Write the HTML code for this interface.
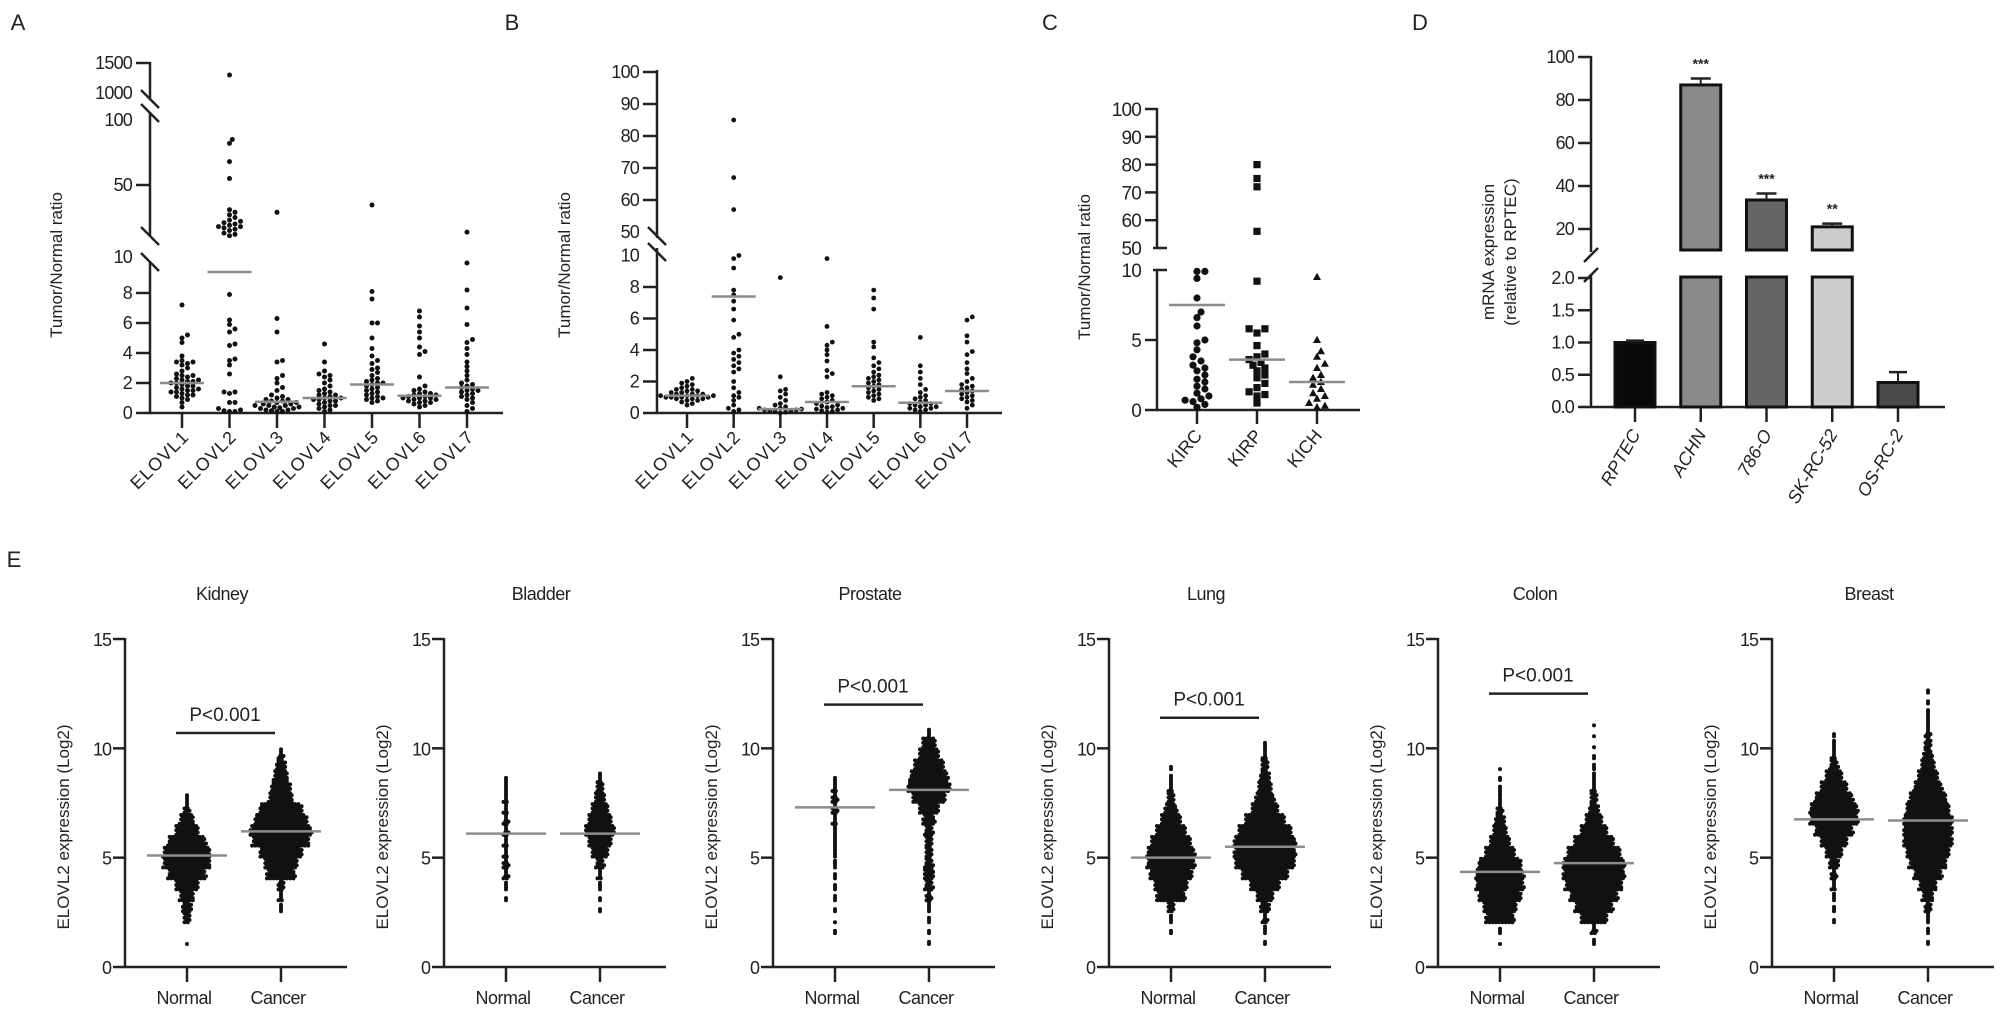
<!DOCTYPE html>
<html><head><meta charset="utf-8">
<style>
html,body{margin:0;padding:0;background:#fff;overflow:hidden;}
svg{display:block;font-family:"Liberation Sans",Arial,sans-serif;}
</style></head>
<body>
<svg id="fig" width="2008" height="1014" viewBox="0 0 2008 1014" xmlns="http://www.w3.org/2000/svg">
<rect width="2008" height="1014" fill="#fff"/>
<g id="root"></g>
</svg>
<script>
// ---------- Panel A data ----------
const aCats = ["ELOVL1","ELOVL2","ELOVL3","ELOVL4","ELOVL5","ELOVL6","ELOVL7"];
const aVals = [
 [0.4,0.7,0.9,1.0,1.1,1.2,1.2,1.3,1.4,1.4,1.5,1.5,1.6,1.6,1.7,1.8,1.8,1.9,2.0,2.0,2.1,2.1,2.2,2.2,2.3,2.4,2.5,2.5,2.6,2.8,3.0,3.2,3.3,3.4,3.4,3.5,3.8,4.7,5.0,5.2,7.2],
 [0.1,0.1,0.15,0.2,0.3,0.7,0.7,1.3,1.4,1.4,2.6,3.2,3.5,3.6,4.5,4.6,5.4,5.6,5.9,6.2,7.9,11,12,13,15,16,17,18,18,19,20,21,22,23,25,27,29,31,55,68,82,85,1300],
 [0.1,0.1,0.15,0.2,0.2,0.3,0.3,0.35,0.4,0.4,0.5,0.5,0.5,0.6,0.6,0.7,0.7,0.8,0.8,0.9,0.9,1.0,1.1,1.2,1.5,1.7,2.0,2.3,2.5,3.4,3.5,5.4,6.3,29],
 [0.1,0.2,0.3,0.4,0.5,0.5,0.6,0.7,0.8,0.8,0.9,0.9,1.0,1.0,1.1,1.2,1.2,1.3,1.4,1.5,1.6,1.8,2.0,2.2,2.4,2.5,2.6,2.8,3.4,4.6],
 [0.7,0.8,0.9,1.0,1.0,1.1,1.2,1.3,1.4,1.5,1.6,1.7,1.8,1.9,2.0,2.0,2.1,2.2,2.3,2.5,2.7,2.9,3.0,3.3,3.5,3.8,4.3,5.0,6.0,6.0,7.6,8.1,34.6],
 [0.4,0.5,0.6,0.7,0.7,0.8,0.8,0.9,0.9,1.0,1.0,1.0,1.1,1.1,1.2,1.2,1.3,1.3,1.4,1.5,1.6,1.8,2.4,3.9,4.1,4.4,5.0,5.4,5.8,6.4,6.8],
 [0.1,0.3,0.5,0.7,0.9,1.0,1.1,1.2,1.3,1.4,1.5,1.5,1.6,1.7,1.8,1.9,2.0,2.2,2.5,2.8,3.1,3.4,3.9,4.3,4.7,4.9,5.9,7.0,8.2,10,13.8]
];
const aMeans = [2.0,9.4,0.75,1.0,1.9,1.15,1.7];
const aTicks = [0,2,4,6,8,10,50,100,1000,1500];
// ---------- Panel B data ----------
const bCats = ["ELOVL1","ELOVL2","ELOVL3","ELOVL4","ELOVL5","ELOVL6","ELOVL7"];
const bVals = [
 [0.5,0.6,0.7,0.8,0.8,0.9,0.9,0.9,1.0,1.0,1.0,1.0,1.1,1.1,1.1,1.1,1.2,1.2,1.2,1.3,1.3,1.4,1.4,1.5,1.5,1.6,1.7,1.8,1.9,2.0,2.2],
 [0.1,0.2,0.3,0.5,0.8,1.0,1.1,1.3,1.6,2.0,2.6,2.8,3.0,3.2,3.4,3.6,3.8,4.0,4.8,5.0,5.9,6.6,7.1,7.5,7.8,9.2,9.8,10,57,67,85],
 [0.0,0.05,0.1,0.1,0.15,0.2,0.2,0.25,0.3,0.3,0.4,0.5,0.6,0.8,1.0,1.2,1.4,1.5,2.3,8.6],
 [0.05,0.1,0.15,0.2,0.25,0.3,0.35,0.4,0.45,0.5,0.6,0.7,0.8,0.9,1.0,1.1,1.2,1.3,2.3,2.5,2.7,3.3,3.7,4.0,4.3,4.5,5.5,9.8],
 [0.8,0.9,1.0,1.1,1.2,1.3,1.4,1.5,1.6,1.7,1.8,1.9,2.0,2.1,2.2,2.3,2.4,2.6,2.8,3.0,3.2,3.5,4.2,4.5,6.6,7.3,7.8],
 [0.1,0.2,0.2,0.3,0.3,0.4,0.4,0.5,0.5,0.6,0.6,0.7,0.8,0.9,1.0,1.1,1.3,1.5,1.8,2.2,2.6,3.0,4.8],
 [0.3,0.5,0.7,0.8,0.9,1.0,1.1,1.2,1.3,1.4,1.5,1.6,1.7,1.8,2.0,2.2,2.5,2.8,3.2,3.7,3.9,4.5,4.9,5.9,6.1]
];
const bMeans = [1.1,7.4,0.25,0.7,1.7,0.65,1.4];
const bTicks = [0,2,4,6,8,10,50,60,70,80,90,100];
// ---------- Panel C data ----------
const cCats = ["KIRC","KIRP","KICH"];
const cVals = [
 [0.2,0.4,0.6,0.7,0.8,1.0,1.2,1.5,1.7,2.0,2.2,2.5,2.8,3.0,3.2,3.5,3.8,4.3,4.8,5.0,6.0,6.6,7.0,8.0,9.4,9.9,9.9],
 [0.5,1.0,1.1,1.3,1.6,1.9,2.3,2.5,2.8,3.0,3.2,3.4,3.6,3.8,4.0,4.6,5.5,5.8,5.8,9.2,56,72,75,80],
 [0.2,0.3,0.5,0.8,1.0,1.2,1.5,1.8,2.0,2.3,2.5,3.0,3.3,3.8,4.2,5.0,9.5]
];
const cMeans = [7.5,3.6,2.0];
const cTicks = [0,5,10,50,60,70,80,90,100];
// ---------- Panel D data ----------
const dCats = ["RPTEC","ACHN","786-O","SK-RC-52","OS-RC-2"];
const dVals = [1.0,87,33.5,21,0.38];
const dErrs = [0.03,3,3,1.5,0.16];
const dStars = ["","***","***","**",""];
const dTicksLow = [0.0,0.5,1.0,1.5,2.0];
const dTicksHigh = [20,40,60,80,100];
// ---------- Panel E data (counts per 0.5 log2 bin, bin i = [0.5i, 0.5i+0.5)) ----------
const eTissues = ["Kidney","Bladder","Prostate","Lung","Colon","Breast"];
const eGroups = ["Normal","Cancer"];
const eKidneyN = [0,0,1,0,10,14,21,35,57,71,71,57,35,21,8,4];
const eKidneyC = [0,0,0,0,0,4,6,9,43,50,64,86,93,79,64,36,29,21,14,7];
const eBladderN = [0,0,0,0,0,0,2,4,7,8,6,6,7,7,6,6,5,2];
const eBladderC = [0,0,0,0,0,2,2,4,6,12,25,35,45,35,25,15,10,4];
const eProstateN = [0,0,0,2,1,2,3,3,3,4,5,5,5,6,8,8,6,2];
const eProstateC = [0,0,2,2,3,5,8,12,15,12,10,10,12,18,30,50,64,57,45,30,20,4];
const eLungN = [0,0,0,2,4,10,43,50,64,72,72,60,45,30,18,10,6,3,2];
const eLungC = [0,0,2,4,7,14,25,45,70,90,93,93,80,60,40,28,20,14,10,6,3];
const eColonN = [0,0,1,3,43,50,64,72,72,64,45,30,20,14,8,5,3,2,1];
const eColonC = [0,0,3,7,40,57,72,86,93,93,80,60,40,25,14,10,6,4,3,2,1,1,1];
const eBreastN = [0,0,0,0,2,3,4,6,8,14,25,40,57,72,72,57,40,25,12,6,4,2];
const eBreastC = [0,0,2,3,5,9,16,26,42,56,65,74,74,74,65,56,42,30,20,13,9,7,5,3,2,2];
const eCounts = [[eKidneyN,eKidneyC],[eBladderN,eBladderC],[eProstateN,eProstateC],[eLungN,eLungC],[eColonN,eColonC],[eBreastN,eBreastC]];
const eMeans = [[5.1,6.2],[6.1,6.1],[7.3,8.1],[5.0,5.5],[4.35,4.75],[6.75,6.7]];
const ePvals = ["P<0.001","","P<0.001","P<0.001","P<0.001",""];
const ePbar = [10.7,0,12.0,11.4,12.5,0];
const eTicks = [0,5,10,15];

// ---------- helpers ----------
const NS="http://www.w3.org/2000/svg";
const root=document.getElementById('root');
function mk(tag,attrs,parent,txt){const e=document.createElementNS(NS,tag);for(const k in attrs)e.setAttribute(k,attrs[k]);if(txt!==undefined)e.textContent=txt;(parent||root).appendChild(e);return e;}
function lin(d0,d1,r0,r1){return v=>r0+(v-d0)*(r1-r0)/(d1-d0);}
function line(x1,y1,x2,y2,w,p,col){return mk('line',{x1,y1,x2,y2,stroke:col||'#222','stroke-width':w||2.5},p);}
function txt(x,y,s,size,anchor,p,extra){const a={x,y,'font-size':size,'text-anchor':anchor||'middle',fill:'#222'};if(extra)for(const k in extra)a[k]=extra[k];return mk('text',a,p,s);}
function swarm(vals,yfn,cx,r){
  const placed=[];const sorted=vals.slice().sort((a,b)=>a-b);const step=r*1.1;
  for(const v of sorted){const y=yfn(v);let k=0,x=cx;
    while(true){const off=k===0?0:(k%2?1:-1)*Math.ceil(k/2)*step;x=cx+off;
      let ok=true;for(const p of placed){const dx=p[0]-x,dy=p[1]-y;if(dx*dx+dy*dy<(2*r-0.6)*(2*r-0.6)){ok=false;break;}}
      if(ok||k>40)break;k++;}
    placed.push([x,y,v]);}
  return placed;
}
function slash(x,y,p){line(x-9,y-9,x+9,y+9,2.5,p);}

// ---------- Panel A ----------
(function(){
  const g=mk('g',{},root);
  
  
  const ax=150, x1=503;
  const yl=lin(0,8,413,293), ym=lin(50,100,185,120), yt=lin(1000,1500,93,63);
  const Y=v=>v<=10?yl(v):(v<=100?ym(v):yt(v));
  txt(18,30,"A",22,'middle',g);
  line(ax,62,ax,100,2.5,g);line(ax,112,ax,236,2.5,g);line(ax,262,ax,414,2.5,g);
  slash(ax,99,g);slash(ax,113,g);slash(ax,236,g);slash(ax,262,g);
  line(ax-1,413,x1,413,2.5,g);
  aTicks.forEach(t=>{const y=Y(t);if(t!==1000&&t!==100&&t!==10)line(ax-14,y,ax,y,2.5,g);
    const tl=txt(ax-18,(t===10?257:y)+6,String(t),18,'end',g,{'letter-spacing':'-0.8'});});
  const yt2=txt(0,0,"Tumor/Normal ratio",17,'middle',g,{transform:'translate(62,265) rotate(-90)'});
  
  const xs=lin(0,6,182,467);
  aCats.forEach((c,i)=>{const cx=xs(i);line(cx,413,cx,428,2.5,g);
    const l=txt(0,0,c,18,'end',g,{transform:`translate(${cx+8},${438}) rotate(-45)`,'letter-spacing':'1'});
    
    const pts=swarm(aVals[i],Y,cx,2.5);
    pts.forEach(p=>{const d=mk('circle',{cx:p[0].toFixed(1),cy:p[1].toFixed(1),r:2.5,fill:'#111'},g);
      });
    const m=line(cx-22,Y(aMeans[i]),cx+22,Y(aMeans[i]),2.5,g,'#8c8c8c');
    
  });
})();

// ---------- Panel B ----------
(function(){
  const g=mk('g',{},root);
  
  
  const ax=657,x1=1002;
  const yl=lin(0,8,413,287), yu=lin(50,100,232,72);
  const Y=v=>v<=10?yl(v):yu(Math.max(v,50));
  txt(512,30,"B",22,'middle',g);
  line(ax,70,ax,238,2.5,g);line(ax,248,ax,414,2.5,g);
  slash(ax,236,g);slash(ax,252,g);
  line(ax-1,413,x1,413,2.5,g);
  bTicks.forEach(t=>{const y=Y(t);if(t!==50&&t!==10)line(ax-14,y,ax,y,2.5,g);
    const tl=txt(ax-18,y+6,String(t),18,'end',g,{'letter-spacing':'-0.8'});});
  const yt2=txt(0,0,"Tumor/Normal ratio",17,'middle',g,{transform:'translate(570,265) rotate(-90)'});
  
  const xs=lin(0,6,687,967);
  bCats.forEach((c,i)=>{const cx=xs(i);line(cx,413,cx,428,2.5,g);
    const l=txt(0,0,c,18,'end',g,{transform:`translate(${cx+8},${438}) rotate(-45)`,'letter-spacing':'1'});
    
    const pts=swarm(bVals[i],Y,cx,2.4);
    pts.forEach(p=>{const d=mk('circle',{cx:p[0].toFixed(1),cy:p[1].toFixed(1),r:2.4,fill:'#111'},g);
      });
    const m=line(cx-22,Y(bMeans[i]),cx+22,Y(bMeans[i]),2.5,g,'#8c8c8c');
    
  });
})();

// ---------- Panel C ----------
(function(){
  const g=mk('g',{},root);
  
  
  const ax=1157,x1=1360;
  const yl=lin(0,10,410,270), yu=lin(50,100,248,109);
  const Y=v=>v<=10?yl(v):yu(Math.max(v,50));
  txt(1050,30,"C",22,'middle',g);
  line(ax,108,ax,248,2.5,g);line(ax-4,248,ax+10,248,2.5,g);
  line(ax,270,ax,411,2.5,g);line(ax-4,270,ax+10,270,2.5,g);
  line(ax-1,410,x1,410,2.5,g);
  cTicks.forEach(t=>{const y=Y(t);if(t!==50&&t!==10)line(ax-12,y,ax,y,2.5,g);
    const tl=txt(ax-16,y+7,String(t),19,'end',g,{'letter-spacing':'-0.8'});});
  const yt2=txt(0,0,"Tumor/Normal ratio",17,'middle',g,{transform:'translate(1090,267) rotate(-90)'});
  
  const xs=lin(0,2,1197,1317);
  cCats.forEach((c,i)=>{const cx=xs(i);line(cx,410,cx,424,2.5,g);
    const l=txt(0,0,c,18,'end',g,{transform:`translate(${cx+6},${436}) rotate(-50)`});
    
    const pts=swarm(cVals[i],Y,cx,3.6);
    pts.forEach(p=>{let d;
      if(i===0)d=mk('circle',{cx:p[0].toFixed(1),cy:p[1].toFixed(1),r:3.6,fill:'#111'},g);
      else if(i===1)d=mk('rect',{x:(p[0]-3.6).toFixed(1),y:(p[1]-3.6).toFixed(1),width:7.2,height:7.2,fill:'#111'},g);
      else d=mk('polygon',{points:`${p[0]},${p[1]-4.2} ${p[0]-4},${p[1]+3} ${p[0]+4},${p[1]+3}`,fill:'#111'},g);
      });
    const m=line(cx-28,Y(cMeans[i]),cx+28,Y(cMeans[i]),2.5,g,'#8c8c8c');
    
  });
})();

// ---------- Panel D ----------
(function(){
  const g=mk('g',{},root);
  
  
  const ax=1591,x1=1945;
  const yl=lin(0,2,407,278), yu=lin(20,100,229,57);
  txt(1420,30,"D",22,'middle',g);
  line(ax,56,ax,252,2.5,g);line(ax,274,ax,408,2.5,g);
  line(ax-7,262,ax+7,248,2.5,g);line(ax-7,282,ax+7,268,2.5,g);
  line(ax-1,407,x1,407,2.5,g);
  dTicksLow.forEach(t=>{const y=yl(t);line(ax-13,y,ax,y,2.5,g);
    const tl=txt(ax-17,y+6,t.toFixed(1),18,'end',g,{'letter-spacing':'-0.8'});});
  dTicksHigh.forEach(t=>{const y=yu(t);line(ax-13,y,ax,y,2.5,g);
    const tl=txt(ax-17,y+6,String(t),18,'end',g,{'letter-spacing':'-0.8'});});
  const t1=txt(0,0,"mRNA expression",17,'middle',g,{transform:'translate(1494,252) rotate(-90)'});
  
  const t2=txt(0,0,"(relative to RPTEC)",17,'middle',g,{transform:'translate(1516,252) rotate(-90)'});
  
  const fills=['#0a0a0a','#8a8a8a','#666666','#cdcdcd','#4a4a4a'];
  const xs=lin(0,4,1635,1898), bw=40;
  dCats.forEach((c,i)=>{const cx=xs(i),v=dVals[i],e=dErrs[i];
    line(cx,407,cx,422,2.5,g);
    const l=txt(0,0,c,18,'end',g,{transform:`translate(${cx+6},${434}) rotate(-60)`,'font-style':'italic'});
    
    let topY;
    if(v<=2){topY=yl(v);
      const b=mk('rect',{x:cx-bw/2,y:topY,width:bw,height:407-topY,fill:fills[i],stroke:'#111','stroke-width':3},g);
      
      line(cx,topY,cx,yl(v+e),2,g);line(cx-9,yl(v+e),cx+9,yl(v+e),2.5,g);
    } else {
      const b1=mk('rect',{x:cx-bw/2,y:277,width:bw,height:130,fill:fills[i],stroke:'#111','stroke-width':3},g);
      
      topY=yu(v);
      const b2=mk('rect',{x:cx-bw/2,y:topY,width:bw,height:250-topY,fill:fills[i],stroke:'#111','stroke-width':3},g);
      
      mk('rect',{x:cx-bw/2-3,y:251.5,width:bw+6,height:24,fill:'#fff'},g);
      const ey=yu(v+e);line(cx,topY,cx,ey,2,g);line(cx-10,ey,cx+10,ey,2.5,g);
      if(dStars[i]){const s=txt(cx,ey-10,dStars[i],14,'middle',g,{'font-weight':'bold'});
        }
    }
  });
})();

// ---------- Panel E ----------
(function(){
  const top=mk('g',{},root);
  
  
  txt(14,567,"E",22,'middle',top);
  const axes=[125,444,773,1109,1438,1772];
  const Y=lin(0,15,967,639);
  eTissues.forEach((tis,ti)=>{
    const g=mk('g',{},top);
    
    
    const ax=axes[ti];
    const tt=txt(ax+97,600,tis,18,'middle',g,{'letter-spacing':'-0.5'});
    
    line(ax,638,ax,968,2.5,g);line(ax-1,967,ax+222,967,2.5,g);
    eTicks.forEach(t=>{const y=Y(t);line(ax-12,y,ax,y,2.5,g);
      const tl=txt(ax-14,y+7,String(t),18,'end',g,{'letter-spacing':'-1'});});
    const yt=txt(0,0,"ELOVL2 expression (Log2)",17,'middle',g,{transform:`translate(${ax-56},827) rotate(-90)`});
    
    eGroups.forEach((gr,gi)=>{
      const cx=ax+(gi===0?62:156);
      line(cx,967,cx,982,2.5,g);
      const xl=txt(cx-3,1004,gr,18,'middle',g,{'letter-spacing':'-0.5'});
      
      const counts=eCounts[ti][gi];
      const sub=5, sp=3.3;
      let pathD='';
      counts.forEach((n,bi)=>{
        if(!n)return;
        for(let r=0;r<sub;r++){
          const m=Math.floor(n/sub)+(r<n%sub?1:0);
          if(!m)continue;
          const v=bi*0.5+(r+0.5)*0.5/sub;
          const y=Y(v);
          const shift=(r%2)*sp/2;
          for(let k=0;k<m;k++){
            const x=cx+(k-(m-1)/2)*sp+(m>1?shift-sp/4:0);
            pathD+=`M${(x-2).toFixed(1)},${y.toFixed(1)}a2,2 0 1,0 4,0a2,2 0 1,0 -4,0`;
          }
        }
      });
      const dots=mk('path',{d:pathD,fill:'#111'},g);
      
      
      const my=Y(eMeans[ti][gi]);
      const ml=line(cx-40,my,cx+40,my,2.5,g,'#8c8c8c');
      
    });
    if(ePvals[ti]){
      const py=Y(ePbar[ti]);
      const pb=line(ax+51,py,ax+150,py,2.5,g);
      
      const pt=txt(ax+100,py-12,ePvals[ti],19,'middle',g);
      
    }
  });
})();
</script>
</body></html>
